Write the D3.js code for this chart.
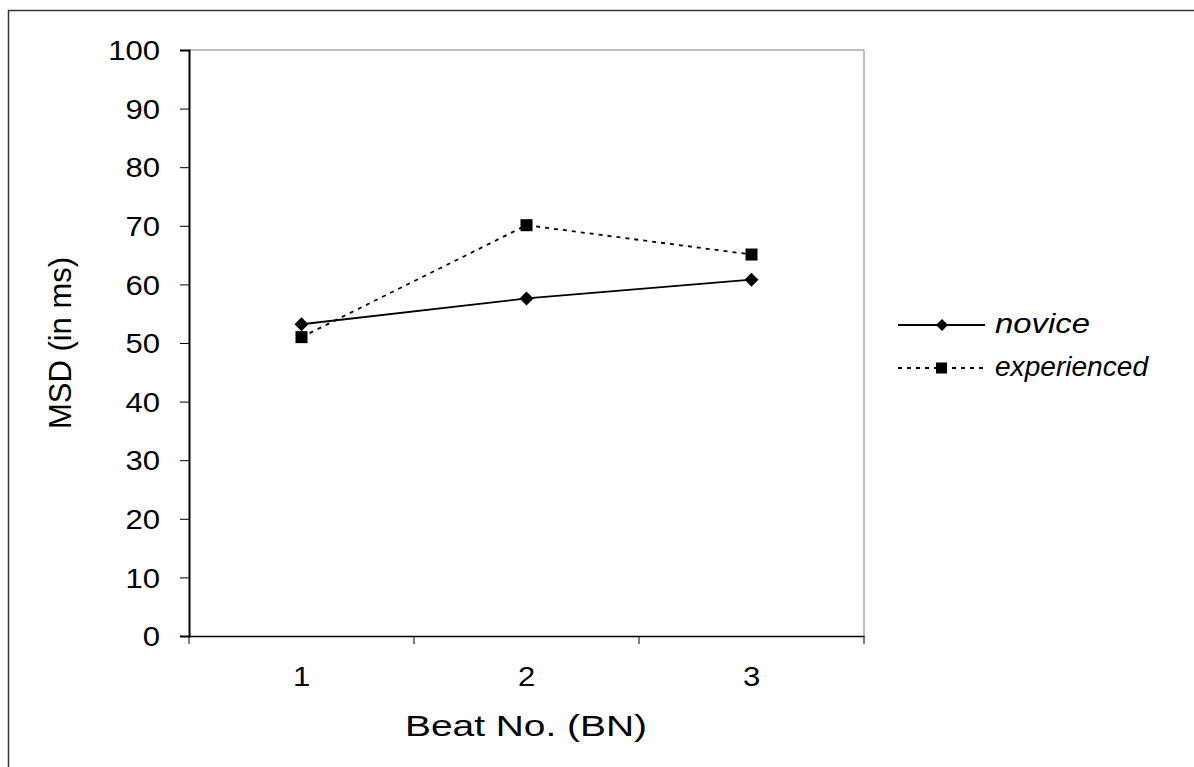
<!DOCTYPE html>
<html>
<head>
<meta charset="utf-8">
<script src="https://cdn.jsdelivr.net/npm/d3@7"></script>
<style>
  html, body { margin: 0; padding: 0; background: #fff; }
  svg { display: block; }
  text { font-family: "Liberation Sans", Arial, sans-serif; fill: #000; }
</style>
</head>
<body>
<svg id="chart" width="1194" height="767"></svg>
<script>
const categories = ["1", "2", "3"];
const novice = [53.2, 57.6, 60.8];
const experienced = [51.0, 70.1, 65.1];
const yTicks = [0, 10, 20, 30, 40, 50, 60, 70, 80, 90, 100];
const seriesNames = ["novice", "experienced"];
const yTitle = "MSD (in ms)";
const xTitle = "Beat No. (BN)";

const svg = d3.select("#chart");
const plotLeft = 189, plotRight = 864, plotTop = 50, plotBottom = 636;

// outer frame
svg.append("rect").attr("x", 8.5).attr("y", 10.5).attr("width", 1300).attr("height", 900)
  .attr("fill", "none").attr("stroke", "#333").attr("stroke-width", 1.5);

const x = d3.scaleBand().domain(categories).range([plotLeft, plotRight]).paddingInner(0).paddingOuter(0);
const y = d3.scaleLinear().domain([0, 100]).range([plotBottom, plotTop]);

// plot area border (top & right)
svg.append("path")
  .attr("d", `M${plotLeft},${plotTop}H${plotRight}V${plotBottom}`)
  .attr("fill", "none").attr("stroke", "#808080").attr("stroke-width", 1);

// Y axis
const yAxis = svg.append("g").attr("transform", `translate(${plotLeft},0)`)
  .call(d3.axisLeft(y).tickValues(yTicks).tickSize(9).tickPadding(20).tickFormat(d3.format("d")));
yAxis.select(".domain").attr("stroke", "#000").attr("stroke-width", 2);
yAxis.selectAll(".tick line").attr("stroke", "#000").attr("stroke-width", 1);
yAxis.selectAll(".tick text").attr("font-size", 27).attr("dy", "0.36em")
  .attr("transform", "translate(-29,0) scale(1.15,1) translate(29,0)")
  .style("font-family", '"Liberation Sans", Arial, sans-serif');

// X axis
const xAxis = svg.append("g").attr("transform", `translate(0,${plotBottom})`)
  .call(d3.axisBottom(x).tickSize(0).tickPadding(31));
xAxis.select(".domain").attr("stroke", "#000").attr("stroke-width", 1.5);
xAxis.selectAll(".tick text").attr("font-size", 27)
  .style("font-family", '"Liberation Sans", Arial, sans-serif')
  .attr("transform", "scale(1.15,1)");
// x tick marks at band boundaries
const boundaries = categories.map(c => x(c)).concat([x(categories[categories.length - 1]) + x.bandwidth()]);
svg.append("g").selectAll("line").data(boundaries).join("line")
  .attr("x1", d => d).attr("x2", d => d).attr("y1", plotBottom).attr("y2", plotBottom + 8)
  .attr("stroke", "#000").attr("stroke-width", 1);

const cx = c => x(c) + x.bandwidth() / 2;

// lines
const line = d3.line().x((d, i) => cx(categories[i])).y(d => y(d));
svg.append("path").datum(novice).attr("d", line)
  .attr("fill", "none").attr("stroke", "#000").attr("stroke-width", 1.8);
svg.append("path").datum(experienced).attr("d", line)
  .attr("fill", "none").attr("stroke", "#000").attr("stroke-width", 1.8).attr("stroke-dasharray", "4,5");

// markers
const diamond = (s) => `M0,${-s}L${s},0L0,${s}L${-s},0Z`;
svg.append("g").selectAll("path").data(novice).join("path")
  .attr("d", diamond(7))
  .attr("transform", (d, i) => `translate(${cx(categories[i])},${y(d)})`)
  .attr("fill", "#000");
svg.append("g").selectAll("rect").data(experienced).join("rect")
  .attr("x", (d, i) => cx(categories[i]) - 6).attr("y", d => y(d) - 6)
  .attr("width", 12).attr("height", 12).attr("fill", "#000");

// axis titles
svg.append("text").attr("transform", "translate(71,343) rotate(-90)")
  .attr("text-anchor", "middle").attr("font-size", 31).text(yTitle);
svg.append("text").attr("x", 526).attr("y", 736)
  .attr("text-anchor", "middle").attr("font-size", 30)
  .attr("textLength", 242).attr("lengthAdjust", "spacingAndGlyphs").text(xTitle);

// legend
const lg = svg.append("g");
const legY = [325, 368];
lg.append("line").attr("x1", 898).attr("x2", 985).attr("y1", legY[0]).attr("y2", legY[0])
  .attr("stroke", "#000").attr("stroke-width", 1.8);
lg.append("path").attr("d", diamond(6)).attr("transform", `translate(942,${legY[0]})`).attr("fill", "#000");
lg.append("line").attr("x1", 898).attr("x2", 985).attr("y1", legY[1]).attr("y2", legY[1])
  .attr("stroke", "#000").attr("stroke-width", 1.8).attr("stroke-dasharray", "4,5");
lg.append("rect").attr("x", 936).attr("y", legY[1] - 5.5).attr("width", 11).attr("height", 11).attr("fill", "#000");
const legLens = [95, 153];
seriesNames.forEach((n, i) => {
  lg.append("text").attr("x", 995).attr("y", legY[i] + 8)
    .attr("font-size", 27).attr("font-style", "italic")
    .attr("textLength", legLens[i]).attr("lengthAdjust", "spacingAndGlyphs").text(n);
});
</script>
</body>
</html>
